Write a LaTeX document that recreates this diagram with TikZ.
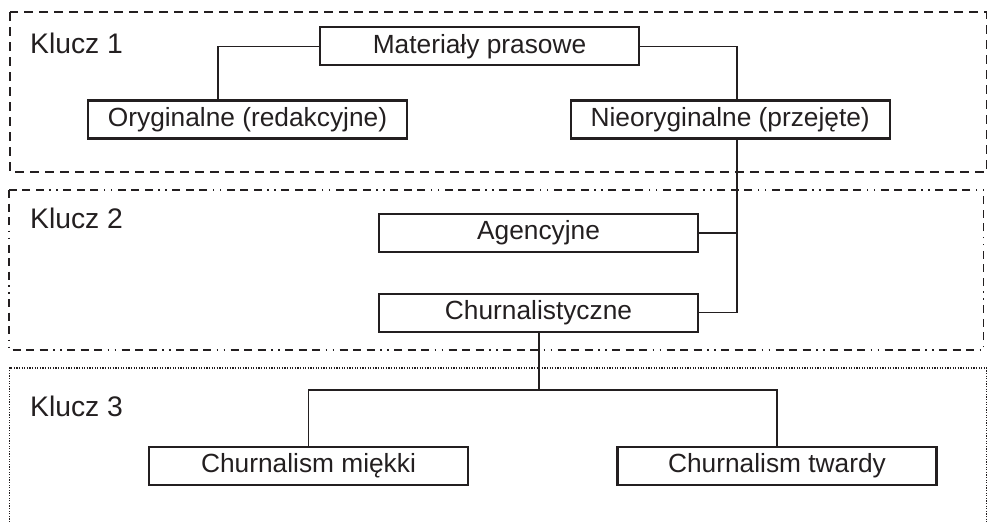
\documentclass[tikz,border=0pt]{standalone}
\usepackage{fontspec}
\setmainfont{Liberation Sans}
\definecolor{ink}{HTML}{231F20}
\begin{document}
\begin{tikzpicture}[x=1pt,y=-1pt,
  box/.style={draw=ink,line width=2.2pt,rectangle,minimum width=319pt,minimum height=38pt,inner sep=0pt,text=ink,font=\fontsize{26.3}{30}\selectfont},
  conn/.style={draw=ink,line width=1.3pt},
  keylabel/.style={anchor=base west,inner sep=0pt,text=ink,font=\fontsize{28.3}{32}\selectfont},
  frameA/.style={draw=ink,line width=1.5pt,dash pattern=on 9pt off 6pt},
  frameB/.style={draw=ink,line width=1.5pt,dash pattern=on 8pt off 5.5pt on 8pt off 5.5pt on 8pt off 5.5pt on 1.5pt off 5.5pt on 1.5pt off 5.5pt},
  frameC/.style={draw=ink,line width=1.4pt,dash pattern=on 1.2pt off 1.4pt}]
\useasboundingbox (0,0) rectangle (988,522);
% frames
\draw[frameA] (10,12) rectangle (986.5,172);
\draw[frameB] (9,190) rectangle (983.5,350);
\draw[frameC] (9.5,530) -- (9.5,368) -- (986.5,368) -- (986.5,530);
% labels
\node[keylabel] (k1) at (30,53) {Klucz 1};
\node[keylabel] (k2) at (30,228) {Klucz 2};
\node[keylabel] (k3) at (30,416.5) {Klucz 3};
% boxes
\node[box] (mat) at (479.5,46.3) {Materiały prasowe};
\node[box] (org) at (247.5,119.5) {Oryginalne (redakcyjne)};
\node[box] (nie) at (730.2,119.5) {Nieoryginalne (przejęte)};
\node[box] (age) at (538.5,233) {Agencyjne};
\node[box] (chu) at (538.5,312.7) {Churnalistyczne};
\node[box] (sm) at (308.5,466) {Churnalism miękki};
\node[box] (st) at (777,466) {Churnalism twardy};
% helper coordinates
\coordinate (lt) at (218,0);
\coordinate (trunk) at (737,0);
\coordinate (bj) at (539,390);
% connectors
\draw[conn] (mat.west) -| (lt |- org.north);
\draw[conn] (mat.east) -| (trunk |- nie.north);
\draw[conn] (trunk |- nie.south) -- (trunk |- chu.east) -- (chu.east);
\draw[conn] (age.east) -- (age.east -| trunk);
\draw[conn] (bj |- chu.south) -- (bj);
\draw[conn] (sm.north) |- (bj) -| (st.north);
\end{tikzpicture}
\end{document}
